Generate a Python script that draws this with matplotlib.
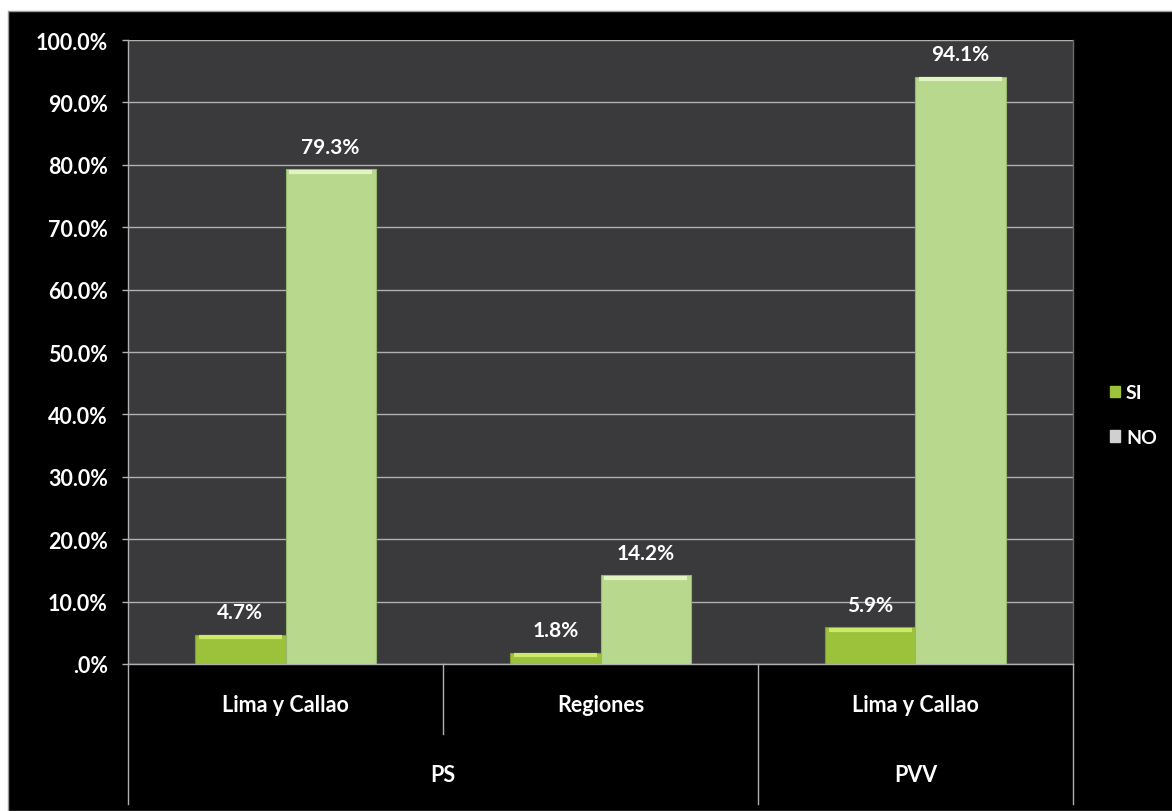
import matplotlib
matplotlib.use("Agg")
import matplotlib.pyplot as plt
from matplotlib.patches import Rectangle
from matplotlib.lines import Line2D
import numpy as np

plt.rcParams['font.family'] = ['Lato', 'DejaVu Sans']
plt.rcParams['font.weight'] = 'bold'

# data
subgroups = ["Lima y Callao", "Regiones", "Lima y Callao"]
groups = ["PS", "PVV"]
group_span = [(0, 1), (2, 2)]          # subgroup index range of each group
si_values = [4.7, 1.8, 5.9]
no_values = [79.3, 14.2, 94.1]
series_names = ["SI", "NO"]
y_ticks = [0, 10, 20, 30, 40, 50, 60, 70, 80, 90, 100]
y_tick_labels = [".0%", "10.0%", "20.0%", "30.0%", "40.0%", "50.0%",
                 "60.0%", "70.0%", "80.0%", "90.0%", "100.0%"]

W, H = 1172, 812
fig = plt.figure(figsize=(W / 100, H / 100), dpi=100, facecolor="white")

# black chart frame below a thin white strip
frame = Rectangle((8 / W, 0), 1, (H - 12) / H, transform=fig.transFigure,
                  facecolor="black", edgecolor="#9a9a9a", lw=1, zorder=-5)
fig.add_artist(frame)

left, right, top, bottom = 128, 1073, 41, 665
ax = fig.add_axes([left / W, 1 - bottom / H, (right - left) / W, (bottom - top) / H])
ax.set_zorder(1)
ax.set_facecolor("#3a3a3c")

x = np.arange(len(subgroups))
bw = 0.286
si_color = "#9cc23c"
no_color = "#b8d88e"

bars_si = ax.bar(x - bw / 2, si_values, bw, color=si_color, edgecolor="#7f9f2c",
                 linewidth=0.8, zorder=3)
bars_no = ax.bar(x + bw / 2, no_values, bw, color=no_color, edgecolor="#97b86a",
                 linewidth=0.8, zorder=3)
# light bevel along the top of every bar
for bars, hl in ((bars_si, "#cde86a"), (bars_no, "#e2f4c2")):
    for b in bars:
        ax.plot([b.get_x() + 0.01, b.get_x() + b.get_width() - 0.01],
                [b.get_height() - 0.4] * 2, color=hl, lw=3, zorder=4,
                solid_capstyle="butt")

for bars, vals in ((bars_si, si_values), (bars_no, no_values)):
    for b, v in zip(bars, vals):
        ax.annotate(f"{v:.1f}%", (b.get_x() + b.get_width() / 2, v),
                    xytext=(0, 9), textcoords="offset points", ha="center",
                    va="bottom", color="white", fontsize=15, fontweight="bold",
                    zorder=5)

ax.set_xlim(-0.5, len(subgroups) - 0.5)
ax.set_ylim(0, 100)
ax.set_yticks(y_ticks)
ax.set_yticklabels(y_tick_labels)
ax.yaxis.grid(True, color="#b0b0b0", lw=1)
ax.set_axisbelow(True)
ax.tick_params(axis="y", colors="white", labelsize=15.5, length=4.5, width=1,
               direction="out", pad=10)
ax.tick_params(axis="y", color="#b0b0b0")
ax.set_xticks([])
for lbl in ax.get_yticklabels():
    lbl.set_fontweight("bold")
for side in ("top", "right"):
    ax.spines[side].set_visible(False)
for side in ("left", "bottom"):
    ax.spines[side].set_color("#b0b0b0")
    ax.spines[side].set_linewidth(1)
ax.plot([1, 1], [0, 1], transform=ax.transAxes, color="#6a6a6a", lw=1, clip_on=False)

# two-level category axis below the plot
trans = ax.get_xaxis_transform()
px = 1 / (bottom - top)
sub_y = -41 * px
grp_y = -111 * px
line_low = -140 * px
line_mid = -70 * px
for i, name in enumerate(subgroups):
    ax.text(i, sub_y, name, transform=trans, ha="center", va="center",
            color="white", fontsize=15.5, fontweight="bold")
for g, (a, b) in zip(groups, group_span):
    ax.text((a + b) / 2, grp_y, g, transform=trans, ha="center", va="center",
            color="white", fontsize=15.5, fontweight="bold")
bounds = [-0.5] + [i + 0.5 for i in range(len(subgroups))]
group_edges = {-0.5} | {b + 0.5 for _, b in group_span}
for bx in bounds:
    low = line_low if bx in group_edges else line_mid
    ax.add_line(Line2D([bx, bx], [0, low], transform=trans, color="#b0b0b0",
                       lw=1, clip_on=False))

# legend
handles = [Rectangle((0, 0), 1, 1, color=c) for c in (si_color, "#d0d0d0")]
leg = fig.legend(handles, series_names, loc="center left",
                 bbox_to_anchor=(1092 / W, 1 - 416 / H), frameon=False,
                 handlelength=0.55, handleheight=0.55, handletextpad=0.3,
                 labelspacing=1.4, fontsize=14, labelcolor="white")
for t in leg.get_texts():
    t.set_fontweight("bold")

fig.savefig("out.png", dpi=100, facecolor=fig.get_facecolor())
